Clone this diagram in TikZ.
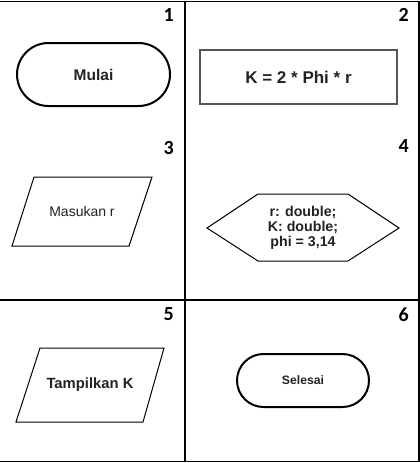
\documentclass[tikz,border=0pt]{standalone}
\usepackage{fontspec}
\setmainfont{Liberation Sans}
\newfontfamily\numfont{Carlito}
\definecolor{txt}{HTML}{222222}
\definecolor{rectgray}{HTML}{555555}
\begin{document}
\begin{tikzpicture}[x=1pt,y=-1pt,
  grid/.style={line width=1.3pt,black},
  term/.style={line width=2pt,black},
  thin/.style={line width=1pt,black},
  num/.style={font=\numfont\bfseries\fontsize{20}{20}\selectfont,anchor=east,inner sep=0pt},
  lbl/.style={text=txt,inner sep=0pt,align=center}]
\useasboundingbox (0,0) rectangle (420,463);
% grid
\draw[grid] (0,1.5) -- (419,1.5) -- (419,461.5) -- (0,461.5);
\draw[grid] (185,1.5) -- (185,461.5);
\draw[grid] (0,300) -- (419,300);
% numbers
\node[num] (n1) at (174,15) {1};
\node[num] (n2) at (409,15) {2};
\node[num] (n3) at (174,148.5) {3};
\node[num] (n4) at (409,146.5) {4};
\node[num] (n5) at (174,314.5) {5};
\node[num] (n6) at (409,315) {6};
% 1 Mulai
\draw[term,rounded corners=31.5] (17,43) rectangle (170,106);
\node[lbl,font=\bfseries\fontsize{15.5}{15.5}\selectfont] (mulai) at (93.5,74.5) {Mulai};
% 2 rectangle
\draw[line width=1.2pt,rectgray] (200,50) rectangle (397,104);
\node[lbl,font=\bfseries\fontsize{17}{17}\selectfont] (proc) at (298.5,77) {K = 2 * Phi * r};
% 3 input
\draw[thin] (34,177) -- (152,177) -- (129,246) -- (12,246) -- cycle;
\node[lbl,font=\fontsize{14}{14}\selectfont] (input) at (82,211.5) {Masukan r};
% 4 hexagon
\draw[thin] (207,228) -- (258,194) -- (348,194) -- (399,228) -- (348,261) -- (258,261) -- cycle;
\node[lbl,font=\bfseries\fontsize{14.2}{15}\selectfont] (prep) at (303,228) {r: double;\\K: double;\\phi = 3,14};
% 5 output
\draw[thin] (40,348) -- (164,348) -- (143,422) -- (16,422) -- cycle;
\node[lbl,font=\bfseries\fontsize{14.8}{14.8}\selectfont] (output) at (90,385) {Tampilkan K};
% 6 Selesai
\draw[term,rounded corners=26.5] (237,354) rectangle (369,407);
\node[lbl,font=\bfseries\fontsize{12.2}{12.2}\selectfont] (selesai) at (303,380.5) {Selesai};
\end{tikzpicture}
\end{document}
